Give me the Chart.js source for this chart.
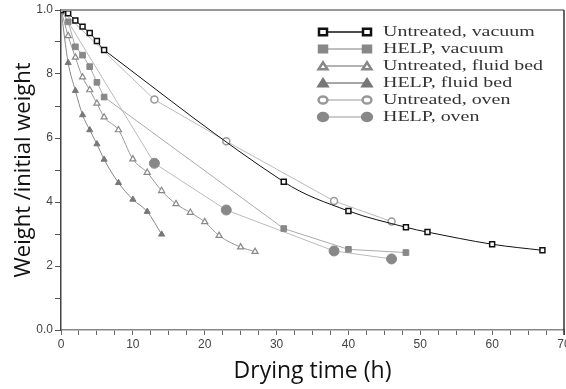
<!DOCTYPE html>
<html>
<head>
<meta charset="utf-8">
<script src="https://cdn.jsdelivr.net/npm/chart.js@4"></script>
<style>
  html, body { margin: 0; padding: 0; background: #fff; overflow: hidden; }
  #wrap { width: 590px; height: 389px; }
</style>
</head>
<body>
<div id="wrap"><canvas id="chartCanvas" width="590" height="389"></canvas></div>
<script>
// Data: drying time (h) vs weight / initial weight
const seriesNames = [
  'Untreated, vacuum',
  'HELP, vacuum',
  'Untreated, fluid bed',
  'HELP, fluid bed',
  'Untreated, oven',
  'HELP, oven'
];

const untreatedVacuumTime = [0, 1, 2, 3, 4, 5, 6, 31, 40, 48, 51, 60, 67];
const untreatedVacuumWeight = [1.0, 0.99, 0.967, 0.948, 0.928, 0.903, 0.875, 0.463, 0.372, 0.321, 0.306, 0.268, 0.249];

const helpVacuumTime = [0, 1, 2, 3, 4, 5, 6, 31, 40, 48];
const helpVacuumWeight = [1.0, 0.963, 0.885, 0.859, 0.823, 0.774, 0.728, 0.317, 0.252, 0.242];

const untreatedFluidTime = [0, 1, 2, 3, 4, 5, 6, 8, 10, 12, 14, 16, 18, 20, 22, 25, 27];
const untreatedFluidWeight = [1.0, 0.919, 0.852, 0.79, 0.75, 0.708, 0.665, 0.625, 0.534, 0.492, 0.435, 0.394, 0.367, 0.338, 0.295, 0.259, 0.245];

const helpFluidTime = [0, 1, 2, 3, 4, 5, 6, 8, 10, 12, 14];
const helpFluidWeight = [1.0, 0.835, 0.748, 0.672, 0.625, 0.581, 0.533, 0.46, 0.408, 0.37, 0.299];

const untreatedOvenTime = [0, 13, 23, 38, 46];
const untreatedOvenWeight = [1.0, 0.72, 0.59, 0.403, 0.339];

const helpOvenTime = [0, 13, 23, 38, 46];
const helpOvenWeight = [1.0, 0.521, 0.375, 0.247, 0.222];

const xTickLabels = ['0', '10', '20', '30', '40', '50', '60', '70'];
const yTickLabels = ['0.0', '', '2', '', '4', '', '6', '', '8', '', '1.0'];

function toPoints(xs, ys) {
  return xs.map((x, i) => ({ x: x, y: ys[i] }));
}

// Legend drawn inside the plot, like the original figure
const insideLegend = {
  id: 'insideLegend',
  afterDatasetsDraw(chart) {
    const ctx = chart.ctx;
    const x0 = 323, x1 = 367, textX = 383, rowY = 32, rowGap = 17;
    chart.data.datasets.forEach((ds, i) => {
      const y = rowY + i * rowGap;
      ctx.save();
      ctx.strokeStyle = ds.borderColor;
      ctx.lineWidth = 1.5;
      ctx.beginPath();
      ctx.moveTo(x0, y);
      ctx.lineTo(x1, y);
      ctx.stroke();
      [x0, x1].forEach(px => {
        ctx.fillStyle = ds.pointBackgroundColor;
        ctx.strokeStyle = ds.pointBorderColor;
        ctx.lineWidth = 2.5;
        ctx.beginPath();
        const s = ds.legendRadius;
        if (ds.pointStyle === 'rect') {
          ctx.rect(px - s, y - s * 0.8, 2 * s, 1.6 * s);
        } else if (ds.pointStyle === 'triangle') {
          ctx.moveTo(px - s * 1.1, y + s * 0.8);
          ctx.lineTo(px, y - s * 0.9);
          ctx.lineTo(px + s * 1.1, y + s * 0.8);
          ctx.closePath();
        } else {
          ctx.ellipse(px, y, s * 1.1, s * 0.9, 0, 0, Math.PI * 2);
        }
        ctx.fill();
        ctx.stroke();
      });
      ctx.fillStyle = '#333';
      ctx.font = '15px "Liberation Serif"';
      ctx.textBaseline = 'middle';
      ctx.translate(textX, y);
      ctx.scale(1.33, 1);
      ctx.fillText(seriesNames[i], 0, 0);
      ctx.restore();
    });
  }
};

// Top and right frame lines
const frame = {
  id: 'frame',
  afterDraw(chart) {
    const { left, right, top, bottom } = chart.chartArea;
    const ctx = chart.ctx;
    ctx.save();
    ctx.strokeStyle = '#999';
    ctx.lineWidth = 2;
    ctx.beginPath();
    ctx.moveTo(left, top);
    ctx.lineTo(right, top);
    ctx.stroke();
    ctx.strokeStyle = '#333';
    ctx.lineWidth = 1.5;
    ctx.beginPath();
    ctx.moveTo(right, top);
    ctx.lineTo(right, bottom + 5);
    ctx.stroke();
    ctx.restore();
  }
};

const ctx = document.getElementById('chartCanvas').getContext('2d');
const chart = new Chart(ctx, {
  type: 'scatter',
  data: {
    datasets: [
      {
        label: seriesNames[0],
        data: toPoints(untreatedVacuumTime, untreatedVacuumWeight),
        showLine: true,
        borderColor: '#111',
        borderWidth: 1,
        tension: 0.35,
        pointStyle: 'rect',
        pointRadius: 3.5,
        pointBorderWidth: 1.5,
        pointBackgroundColor: '#fff',
        pointBorderColor: '#111',
        legendRadius: 4
      },
      {
        label: seriesNames[1],
        data: toPoints(helpVacuumTime, helpVacuumWeight),
        showLine: true,
        borderColor: '#aaa',
        borderWidth: 1,
        pointStyle: 'rect',
        pointRadius: 4,
        pointBorderWidth: 1,
        pointBackgroundColor: '#888',
        pointBorderColor: '#888',
        legendRadius: 4
      },
      {
        label: seriesNames[2],
        data: toPoints(untreatedFluidTime, untreatedFluidWeight),
        showLine: true,
        borderColor: '#999',
        borderWidth: 1,
        cubicInterpolationMode: 'monotone',
        pointStyle: 'triangle',
        pointRadius: 3.5,
        pointBorderWidth: 1.2,
        pointBackgroundColor: '#fff',
        pointBorderColor: '#888',
        legendRadius: 4
      },
      {
        label: seriesNames[3],
        data: toPoints(helpFluidTime, helpFluidWeight),
        showLine: true,
        borderColor: '#888',
        borderWidth: 1,
        cubicInterpolationMode: 'monotone',
        pointStyle: 'triangle',
        pointRadius: 3.5,
        pointBorderWidth: 1,
        pointBackgroundColor: '#777',
        pointBorderColor: '#777',
        legendRadius: 4
      },
      {
        label: seriesNames[4],
        data: toPoints(untreatedOvenTime, untreatedOvenWeight),
        showLine: true,
        borderColor: '#bbb',
        borderWidth: 1,
        pointStyle: 'circle',
        pointRadius: 3.5,
        pointBorderWidth: 1.5,
        pointBackgroundColor: '#fff',
        pointBorderColor: '#999',
        legendRadius: 4
      },
      {
        label: seriesNames[5],
        data: toPoints(helpOvenTime, helpOvenWeight),
        showLine: true,
        borderColor: '#bbb',
        borderWidth: 1,
        pointStyle: 'circle',
        pointRadius: 5,
        pointBorderWidth: 1,
        pointBackgroundColor: '#888',
        pointBorderColor: '#888',
        legendRadius: 4.5
      }
    ]
  },
  options: {
    responsive: false,
    animation: false,
    devicePixelRatio: 1,
    layout: { padding: { top: 10, right: 26, bottom: 0, left: 0 } },
    plugins: {
      legend: { display: false },
      tooltip: { enabled: false }
    },
    scales: {
      x: {
        type: 'linear',
        min: 0,
        max: 70,
        afterFit: (scale) => { scale.height = 59; },
        border: { color: '#888', width: 1.5 },
        grid: { display: true, drawOnChartArea: false, tickLength: 5, color: '#666', tickWidth: 1 },
        ticks: {
          stepSize: 2.5,
          autoSkip: false,
          maxRotation: 0,
          padding: 2,
          color: '#444',
          font: { family: '"Liberation Sans"', size: 12 },
          callback: (v) => (v % 10 === 0 ? xTickLabels[v / 10] : '')
        },
        title: {
          display: true,
          text: 'Drying time (h)',
          color: '#111',
          font: { family: '"Open Sans"', size: 23 },
          padding: { top: 0, bottom: 4 }
        }
      },
      y: {
        type: 'linear',
        min: 0,
        max: 1,
        afterFit: (scale) => { scale.width = 61; },
        border: { color: '#444', width: 1.5 },
        grid: { display: true, drawOnChartArea: false, tickLength: 6, color: '#555', tickWidth: 1 },
        ticks: {
          stepSize: 0.1,
          autoSkip: false,
          padding: 2,
          color: '#444',
          font: { family: '"Liberation Sans"', size: 12 },
          callback: (v) => yTickLabels[Math.round(v * 10)]
        },
        title: {
          display: true,
          text: 'Weight /initial weight',
          color: '#111',
          font: { family: '"Open Sans"', size: 22 },
          padding: { top: 11, bottom: 0 }
        }
      }
    }
  },
  plugins: [insideLegend, frame]
});
</script>
</body>
</html>
